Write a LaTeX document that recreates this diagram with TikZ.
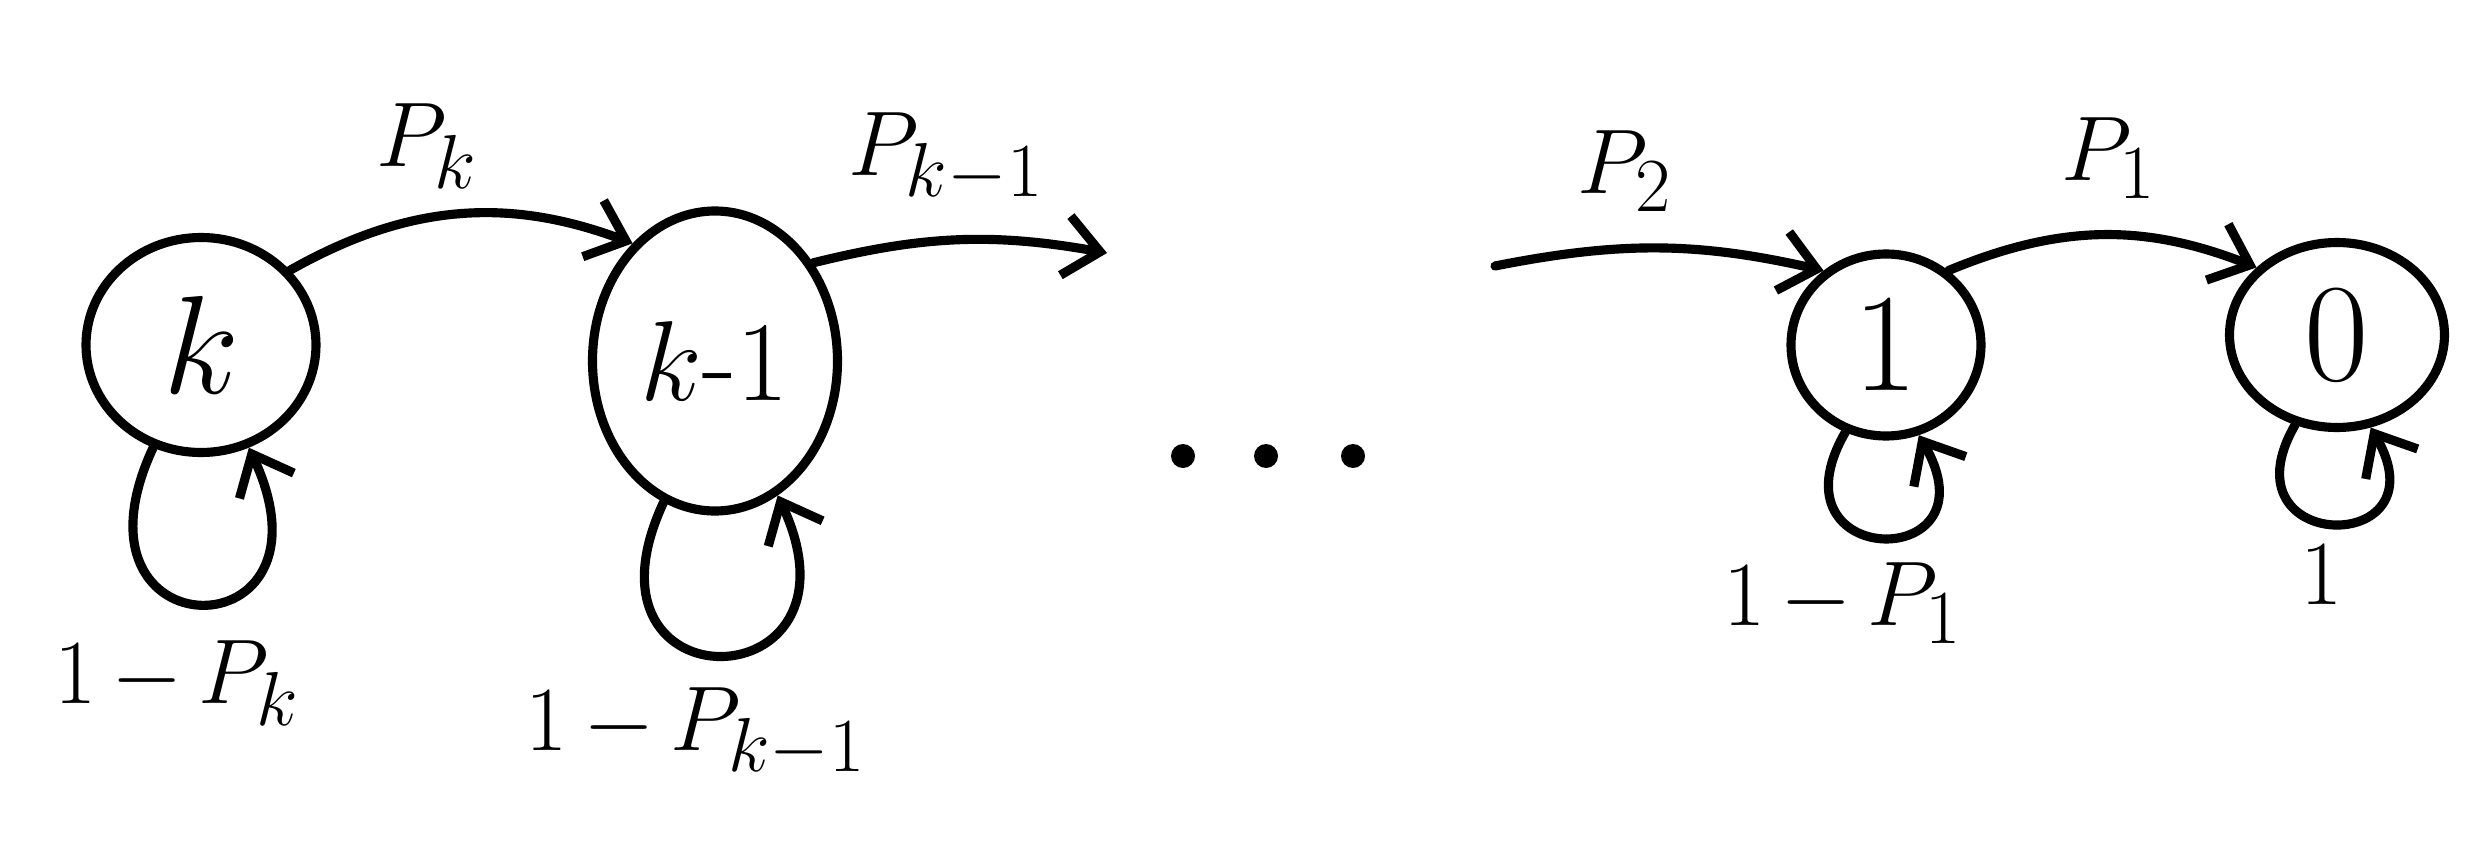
\documentclass[tikz,border=0pt]{standalone}
\usepackage{amsmath}
\usepackage{graphicx}
\usepackage{tikz}
\usetikzlibrary{arrows.meta,shapes.geometric}

\newcommand{\statetext}[1]{\scalebox{1.6}{\Huge$#1$}}
\newcommand{\probtext}[1]{\scalebox{1.05}{\Huge$#1$}}

\tikzset{
  state/.style={draw, ellipse, line width=2.6pt, inner sep=0pt},
  trans/.style={->, line width=2.6pt, line cap=round},
  selfloop/.style={->, line width=2.6pt, line cap=round},
  prob/.style={inner sep=1pt}
}

\begin{document}
\begin{tikzpicture}[>={Straight Barb[length=3.5mm,width=6mm,line width=2.6pt]}]
  \useasboundingbox (0,0) rectangle (24.81,8.65);
  % states
  \node[state, minimum width=2.3cm, minimum height=2.15cm] (k) at (2.01,5.20) {\statetext{k}};
  \node[state, minimum width=2.45cm, minimum height=3.0cm] (km1) at (7.15,5.04) {\scalebox{1.3}{\Huge$k$-$1$}};
  \node[state, minimum width=1.9cm, minimum height=1.82cm] (one) at (18.86,5.20) {\statetext{1}};
  \node[state, minimum width=2.15cm, minimum height=1.85cm] (zero) at (23.37,5.30) {\statetext{0}};
  % dots
  \foreach \x/\n in {11.83/a, 12.66/b, 13.53/c}
    \node[circle, fill, inner sep=0pt, minimum size=0.24cm] (dot\n) at (\x,4.09) {};
  \coordinate (out) at (11.07,6.12);
  \coordinate (in) at (14.95,5.99);
  % transitions
  \draw[trans] (k.40) to[bend left=25] (km1.125);
  \draw[trans] (km1.45) to[bend left=12] (out);
  \draw[trans] (in) to[bend left=12] (one.130);
  \draw[trans] (one.50) to[bend left=22] (zero.140);
  \node[prob] (pk) at (4.27,7.19) {\probtext{P_k}};
  \node[prob] (pkm1) at (9.46,7.07) {\probtext{P_{k-1}}};
  \node[prob] (p2) at (16.25,6.94) {\probtext{P_2}};
  \node[prob] (p1) at (21.09,7.07) {\probtext{P_1}};
  % self loops
  \draw[selfloop] (k.245) .. controls +(-115:2.3) and +(-65:2.3) .. (k.295);
  \draw[selfloop] (km1.250) .. controls +(-115:2.3) and +(-65:2.3) .. (km1.295);
  \draw[selfloop] (one.245) .. controls +(-120:1.6) and +(-60:1.6) .. (one.290);
  \draw[selfloop] (zero.245) .. controls +(-120:1.5) and +(-60:1.5) .. (zero.290);
  \node[prob] (lk) at (1.77,1.82) {\probtext{1\,{-}\,P_k}};
  \node[prob] (lkm1) at (6.96,1.32) {\probtext{1\,{-}\,P_{k-1}}};
  \node[prob] (lone) at (18.43,2.62) {\probtext{1\,{-}\,P_1}};
  \node[prob] (lzero) at (23.22,2.9) {\probtext{1}};
\end{tikzpicture}
\end{document}
